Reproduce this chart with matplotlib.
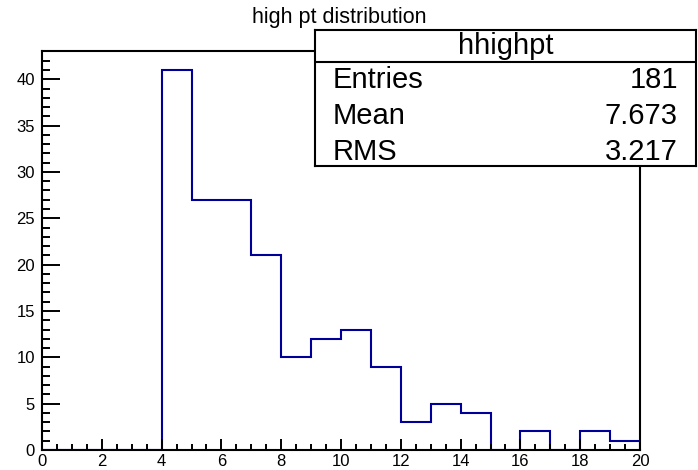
import matplotlib
matplotlib.use("Agg")
import matplotlib.pyplot as plt
from matplotlib.ticker import MultipleLocator

plt.rcParams["font.family"] = ["Liberation Sans", "DejaVu Sans"]

# histogram contents, 20 bins from 0 to 20
bin_edges = list(range(0, 21))
counts = [0, 0, 0, 0, 41, 27, 27, 21, 10, 12, 13, 9, 3, 5, 4, 0, 2, 0, 2, 1]

title = "high pt distribution"
hist_name = "hhighpt"
stat_labels = ["Entries", "Mean", "RMS"]
stat_values = ["181", "7.673", "3.217"]

W, H = 698, 470
fig = plt.figure(figsize=(W / 100, H / 100), dpi=100)


def px_rect(left, top, right, bottom):
    return [left / W, 1 - bottom / H, (right - left) / W, (bottom - top) / H]


ax = fig.add_axes(px_rect(42, 51, 640, 450))
ax.stairs(counts, bin_edges, color="#000099", linewidth=1.5, baseline=0)
ax.set_xlim(0, 20)
ax.set_ylim(0, 43.05)

ax.xaxis.set_major_locator(MultipleLocator(2))
ax.xaxis.set_minor_locator(MultipleLocator(0.5))
ax.yaxis.set_major_locator(MultipleLocator(5))
ax.yaxis.set_minor_locator(MultipleLocator(1))

ax.tick_params(axis="both", which="both", direction="in", width=1.4,
               top=False, right=False, labelsize=12, colors="black")
ax.tick_params(axis="y", which="major", length=13, pad=5)
ax.tick_params(axis="y", which="minor", length=6)
ax.tick_params(axis="x", which="major", length=8, pad=3)
ax.tick_params(axis="x", which="minor", length=4)
for sp in ax.spines.values():
    sp.set_linewidth(1.5)

fig.text(339 / W, 1 - 17 / H, title, ha="center", va="center", fontsize=15.5)

# stats box
bl, bt, br, bb = 315, 30, 696, 166
box = fig.add_axes(px_rect(bl, bt, br, bb))
box.set_xlim(0, br - bl)
box.set_ylim(bb - bt, 0)
box.set_xticks([])
box.set_yticks([])
for sp in box.spines.values():
    sp.set_linewidth(1.5)
box.axhline(32, color="black", linewidth=1.5)
box.text((br - bl) / 2, 16, hist_name, ha="center", va="center", fontsize=21)
for i, (lab, val) in enumerate(zip(stat_labels, stat_values)):
    y = 50 + 36 * i
    box.text(18, y, lab, ha="left", va="center", fontsize=21)
    box.text(363, y, val, ha="right", va="center", fontsize=21)

fig.savefig("out.png", dpi=100)
